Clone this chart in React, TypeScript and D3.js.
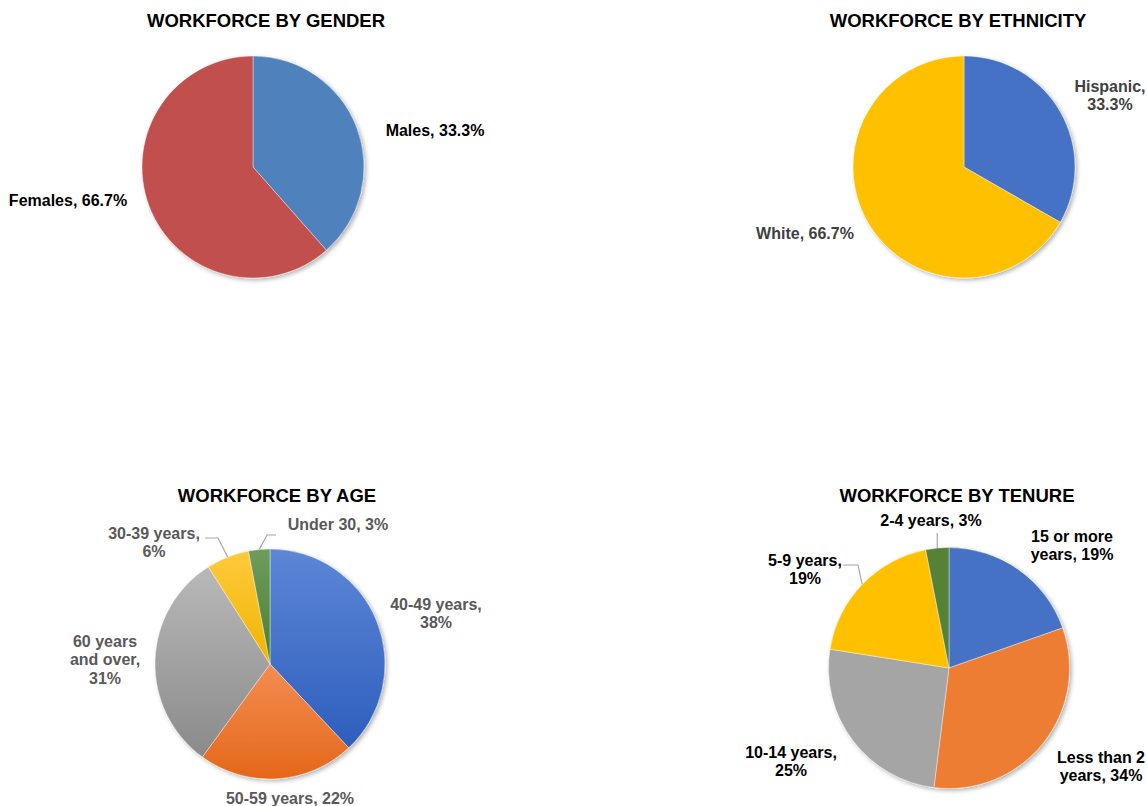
import * as d3 from 'd3';
import { type FC } from 'react';

// ---- data ----
const genderCategories = ['Males', 'Females'];
const genderValues = [38.5, 61.5];
const genderLabels = [['Males, 33.3%'], ['Females, 66.7%']];

const ethnicityCategories = ['Hispanic', 'White'];
const ethnicityValues = [33.3, 66.7];
const ethnicityLabels = [['Hispanic,', '33.3%'], ['White, 66.7%']];

const ageCategories = ['40-49 years', '50-59 years', '60 years and over', '30-39 years', 'Under 30'];
const ageValues = [38, 22, 31, 6, 3];
const ageLabels = [
  ['40-49 years,', '38%'],
  ['50-59 years, 22%'],
  ['60 years', 'and over,', '31%'],
  ['30-39 years,', '6%'],
  ['Under 30, 3%'],
];

const tenureCategories = ['15 or more years', 'Less than 2 years', '10-14 years', '5-9 years', '2-4 years'];
const tenureValues = [19.6, 32.4, 25.5, 19.4, 3.1];
const tenureLabels = [
  ['15 or more', 'years, 19%'],
  ['Less than 2', 'years, 34%'],
  ['10-14 years,', '25%'],
  ['5-9 years,', '19%'],
  ['2-4 years, 3%'],
];

// ---- layout / style ----
type Grad = [string, string];
type PieSpec = {
  id: string;
  title: string;
  titleX: number;
  titleY: number;
  cx: number;
  cy: number;
  r: number;
  categories: string[];
  values: number[];
  labels: string[][];
  labelPos: [number, number][]; // label centre offset (first line) from pie centre
  leaders: ([number, number][] | null)[]; // elbow points from pie centre
  colors: Grad[];
  textColor: string;
};

const FONT = "'Liberation Sans', Arial, sans-serif";
const LINE = 18.5;

const pies: PieSpec[] = [
  {
    id: 'gender',
    title: 'WORKFORCE BY GENDER',
    titleX: 266,
    titleY: 20,
    cx: 253,
    cy: 167,
    r: 111,
    categories: genderCategories,
    values: genderValues,
    labels: genderLabels,
    labelPos: [[182, -37], [-185, 33]],
    leaders: [null, null],
    colors: [['#4f81bd', '#4f81bd'], ['#c0504d', '#c0504d']],
    textColor: '#000000',
  },
  {
    id: 'ethnicity',
    title: 'WORKFORCE BY ETHNICITY',
    titleX: 958,
    titleY: 20,
    cx: 964,
    cy: 167,
    r: 111,
    categories: ethnicityCategories,
    values: ethnicityValues,
    labels: ethnicityLabels,
    labelPos: [[146, -81], [-159, 66]],
    leaders: [null, null],
    colors: [['#4472c4', '#4472c4'], ['#ffc000', '#ffc000']],
    textColor: '#404040',
  },
  {
    id: 'age',
    title: 'WORKFORCE BY AGE',
    titleX: 277,
    titleY: 495,
    cx: 270,
    cy: 664,
    r: 115,
    categories: ageCategories,
    values: ageValues,
    labels: ageLabels,
    labelPos: [[166, -60], [20, 134], [-165, -23], [-116, -131], [68, -140]],
    leaders: [null, null, null, [[-65, -126], [-52, -126]], [[6, -129], [-3, -129]]],
    colors: [
      ['#5d86d6', '#2d5ebd'],
      ['#f38d52', '#e4671a'],
      ['#b9b9b9', '#8a8a8a'],
      ['#ffca3c', '#efb400'],
      ['#6f9c5e', '#4a7f2c'],
    ],
    textColor: '#595959',
  },
  {
    id: 'tenure',
    title: 'WORKFORCE BY TENURE',
    titleX: 957,
    titleY: 495,
    cx: 949,
    cy: 668,
    r: 120.5,
    categories: tenureCategories,
    values: tenureValues,
    labels: tenureLabels,
    labelPos: [[123, -132], [152, 89], [-158, 84], [-144, -108], [-18, -148]],
    leaders: [null, null, null, [[-106, -103], [-91, -103]], [[-11.7, -135], [-11.7, -135]]],
    colors: [
      ['#4472c4', '#4472c4'],
      ['#ed7d31', '#ed7d31'],
      ['#a5a5a5', '#a5a5a5'],
      ['#ffc000', '#ffc000'],
      ['#548235', '#548235'],
    ],
    textColor: '#000000',
  },
];

const Pie: FC<{ spec: PieSpec }> = ({ spec }) => {
  const pie = d3
    .pie<number>()
    .sort(null)
    .value((d) => d);
  const arcs = pie(spec.values);
  const arc = d3.arc<d3.PieArcDatum<number>>().innerRadius(0).outerRadius(spec.r);

  return (
    <g>
      <text
        x={spec.titleX}
        y={spec.titleY}
        textAnchor='middle'
        dominantBaseline='central'
        fontFamily={FONT}
        fontWeight='bold'
        fontSize={18.5}
        fill='#000'
      >
        {spec.title}
      </text>
      <defs>
        {spec.colors.map((c, i) => (
          <linearGradient key={i} id={`${spec.id}-g${i}`} x1='0' y1='0' x2='0' y2='1'>
            <stop offset='0' stopColor={c[0]} />
            <stop offset='1' stopColor={c[1]} />
          </linearGradient>
        ))}
      </defs>
      <g transform={`translate(${spec.cx},${spec.cy})`}>
        <g filter='url(#shadow)'>
          {arcs.map((a, i) => (
            <path
              key={spec.categories[i]}
              d={arc(a) ?? undefined}
              fill={`url(#${spec.id}-g${i})`}
              stroke='#ffffff'
              strokeWidth={0.4}
            />
          ))}
        </g>
        {arcs.map((a, i) => {
          const elbow = spec.leaders[i];
          if (!elbow) return null;
          const mid = (a.startAngle + a.endAngle) / 2;
          const end: [number, number] = [Math.sin(mid) * spec.r, -Math.cos(mid) * spec.r];
          const pts = [...elbow, end];
          return (
            <path
              key={`l${i}`}
              d={d3.line()(pts) ?? undefined}
              fill='none'
              stroke='#a6a6a6'
              strokeWidth={1.2}
            />
          );
        })}
        {spec.labels.map((lines, i) => (
          <text
            key={`t${i}`}
            textAnchor='middle'
            fontFamily={FONT}
            fontWeight='bold'
            fontSize={16}
            fill={spec.textColor}
          >
            {lines.map((ln, j) => (
              <tspan
                key={j}
                x={spec.labelPos[i][0]}
                y={spec.labelPos[i][1] + j * LINE}
                dominantBaseline='central'
              >
                {ln}
              </tspan>
            ))}
          </text>
        ))}
      </g>
    </g>
  );
};

const App: FC = () => (
  <svg
    width={1147}
    height={806}
    viewBox='0 0 1147 806'
    style={{ position: 'absolute', left: 0, top: 0, background: '#fff' }}
  >
    <defs>
      <filter id='shadow' x='-20%' y='-20%' width='140%' height='140%'>
        <feDropShadow dx={2} dy={2} stdDeviation={2} floodColor='#000' floodOpacity={0.3} />
      </filter>
    </defs>
    {pies.map((p) => (
      <Pie key={p.id} spec={p} />
    ))}
  </svg>
);

export default App;
